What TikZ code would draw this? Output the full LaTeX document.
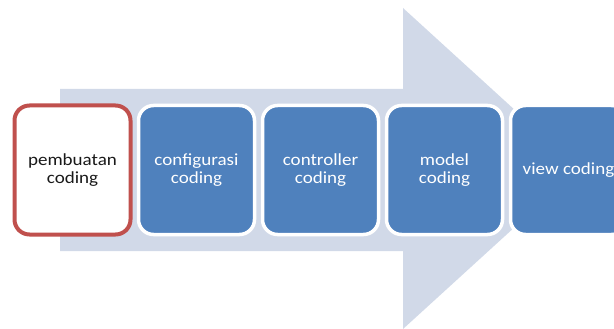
\documentclass[tikz,border=0pt]{standalone}
\usepackage{fontspec}
\setmainfont{Carlito}[FakeStretch=1.12]
\usetikzlibrary{positioning}

\definecolor{stepblue}{HTML}{4F81BD}
\definecolor{stepred}{HTML}{C0504D}
\definecolor{flowgray}{HTML}{D1D9E8}

\begin{document}
\begin{tikzpicture}[
    x=1pt, y=-1pt,
    node distance=8pt,
    box/.style={
      draw, rounded corners=15pt, minimum width=116pt, minimum height=129pt,
      outer sep=0pt, line width=3.5pt, align=center,
      font=\fontsize{17}{18}\selectfont
    },
    stage/.style={box, draw=white, fill=stepblue, text=white},
    current/.style={box, draw=stepred, fill=white, line width=4pt, text=black!90}
]
\useasboundingbox (0,0) rectangle (614,329);
\clip (0,0) rectangle (614,329);

% Big arrow behind the steps
\fill[flowgray] (60,89) -- (403,89) -- (403,8) -- (579,168.5)
  -- (403,329) -- (403,251) -- (60,251) -- cycle;

% Steps
\node[current] (buat) at (72.5,170) {pembuatan\\coding};
\node[stage, right=of buat] (config) {configurasi\\coding};
\node[stage, right=of config] (ctrl) {controller\\coding};
\node[stage, right=of ctrl] (model) {model\\coding};
\node[stage, right=of model] (view) {view coding};

\end{tikzpicture}
\end{document}
